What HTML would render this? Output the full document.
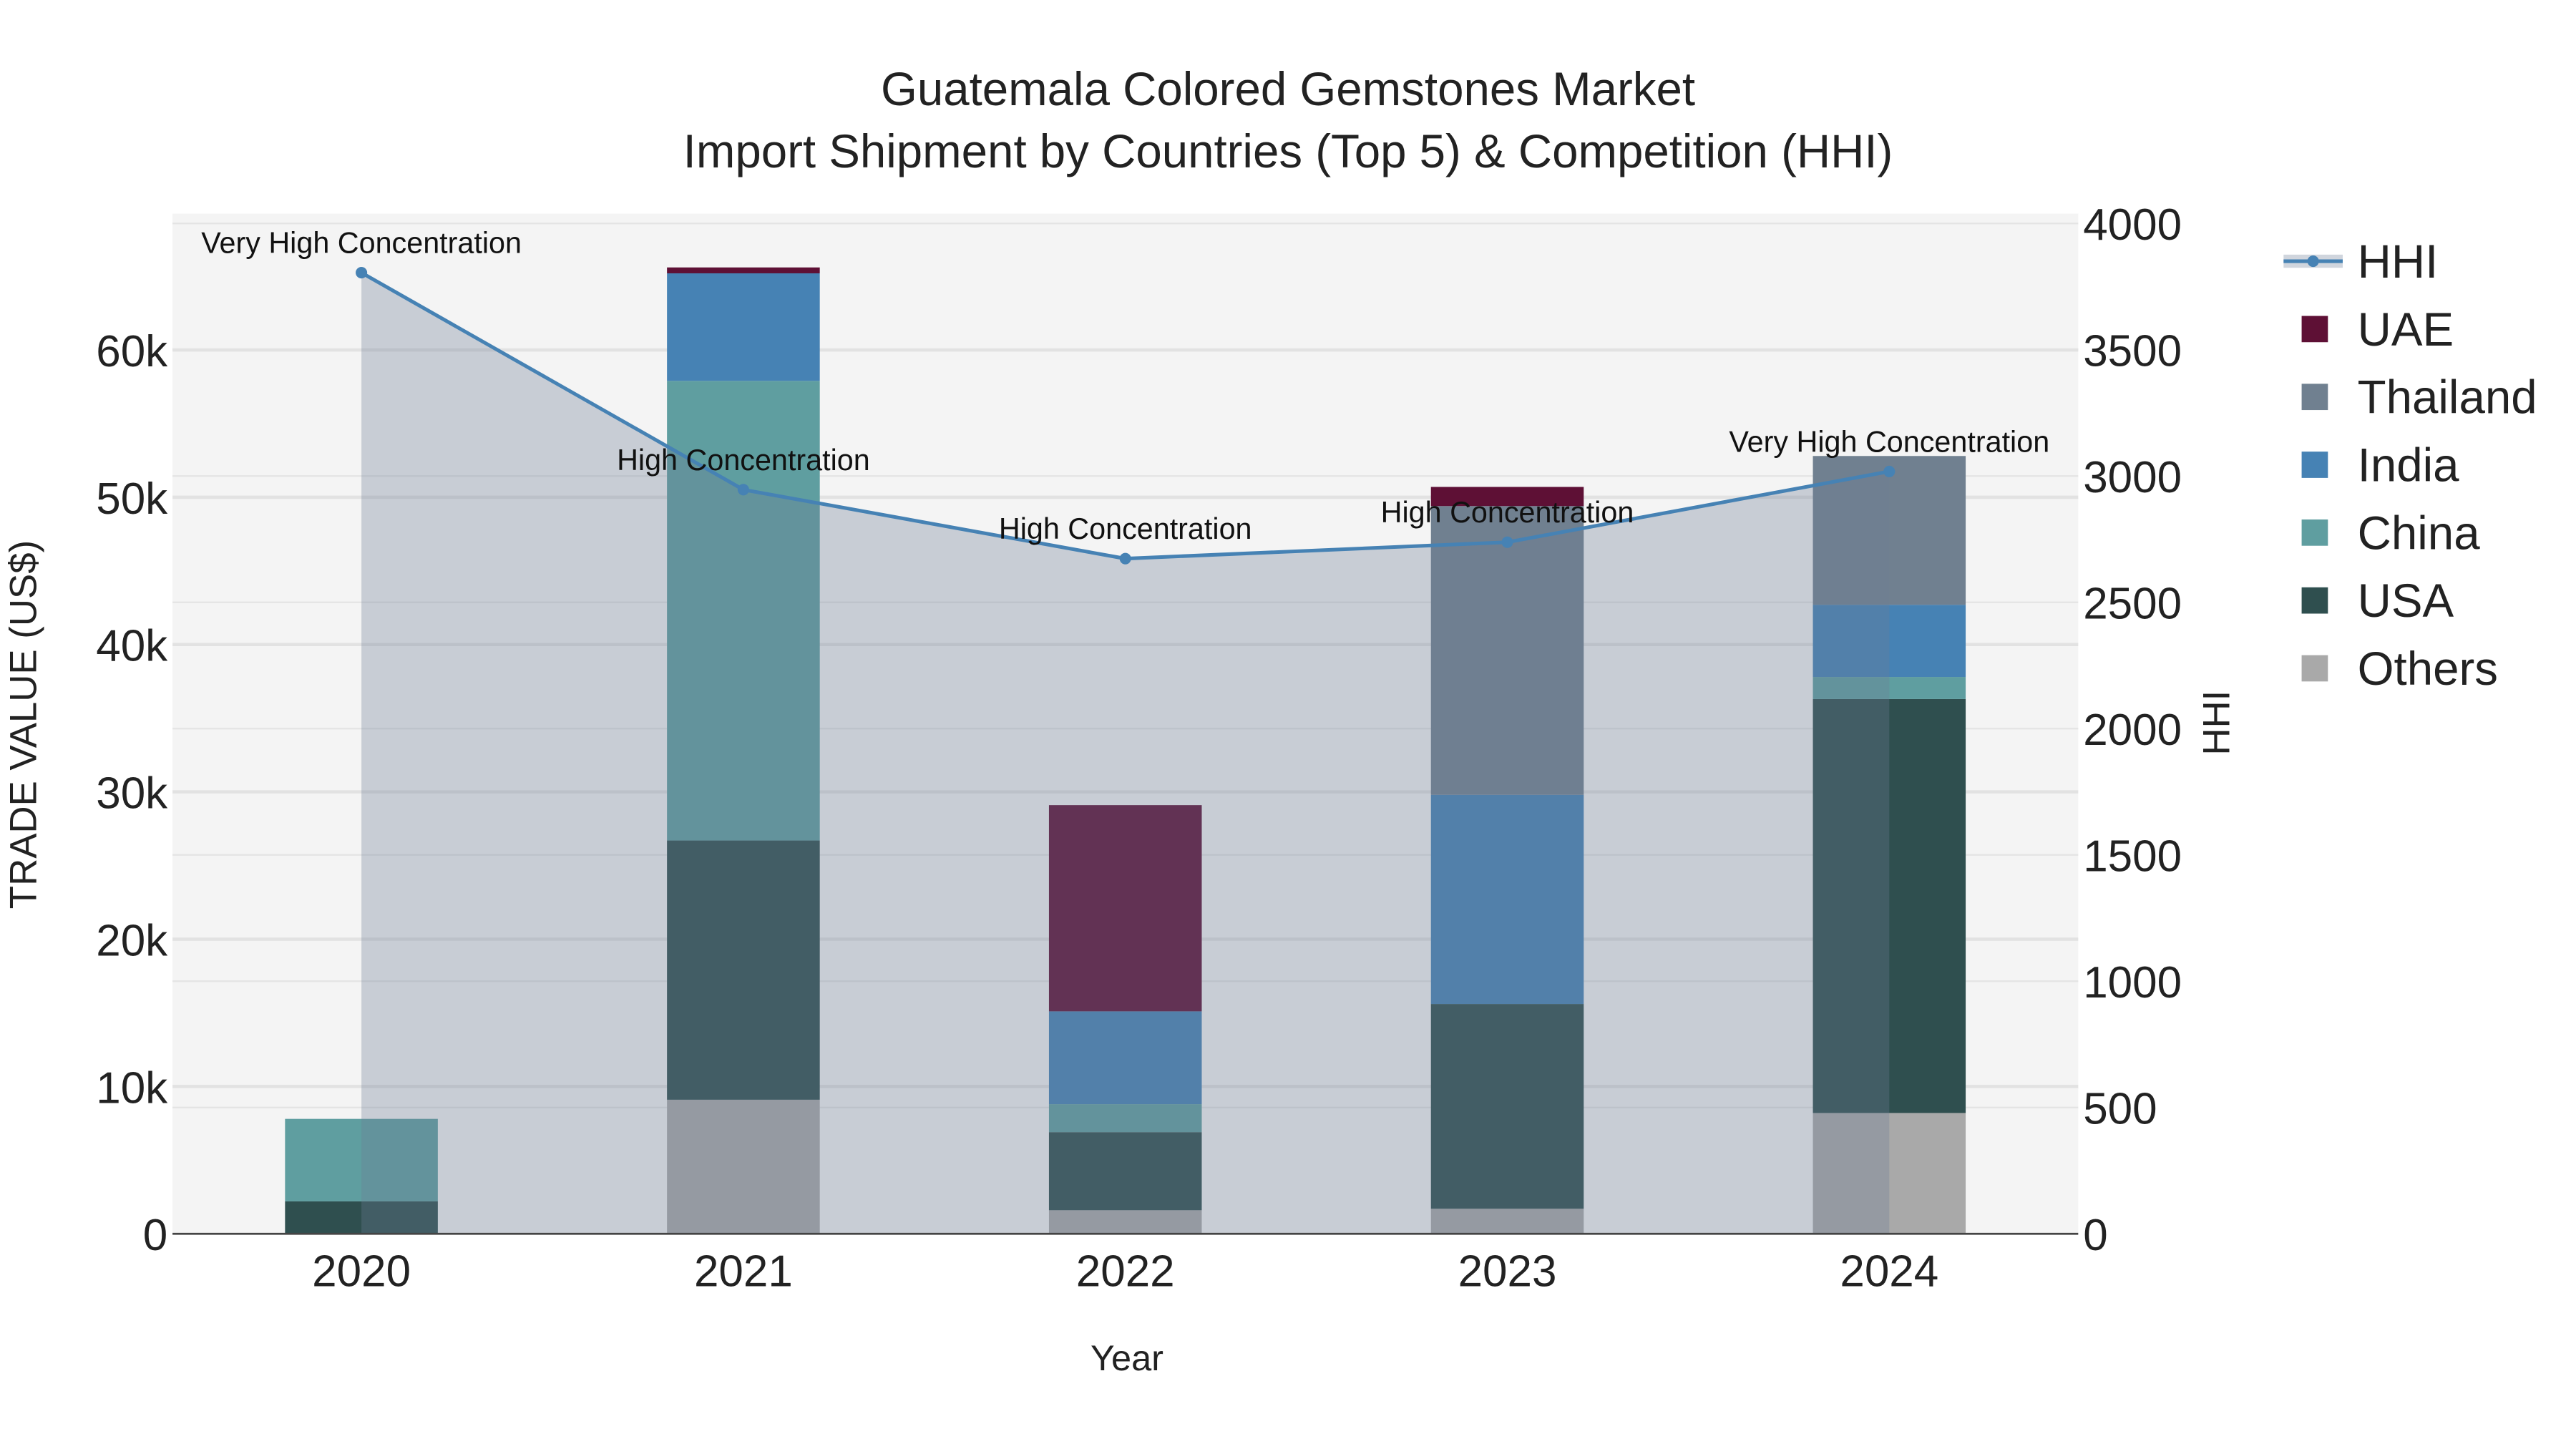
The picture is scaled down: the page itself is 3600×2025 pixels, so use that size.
<!DOCTYPE html>
<html><head><meta charset="utf-8"><style>html,body{margin:0;padding:0;background:#fff}svg{display:block}text{font-family:"Liberation Sans",Arial,sans-serif}</style></head>
<body>
<svg id="chart" width="3600" height="2025" viewBox="0 0 1568 882" xmlns="http://www.w3.org/2000/svg">
<rect x="105" y="130" width="1160" height="621" fill="#f4f4f4"/>
<g id="grid"></g><g id="bars"></g><g id="hhi"></g><g id="axes"></g>
<text x="784" y="64" text-anchor="middle" font-size="28.5" fill="#222">Guatemala Colored Gemstones Market</text>
<text x="784" y="102" text-anchor="middle" font-size="28.5" fill="#222">Import Shipment by Countries (Top 5) &amp; Competition (HHI)</text>
<text x="686" y="834" text-anchor="middle" font-size="22" fill="#222">Year</text>
<text transform="translate(22,441) rotate(-90)" text-anchor="middle" font-size="23" fill="#222">TRADE VALUE (US$)</text>
<text transform="translate(1357,440) rotate(-90)" text-anchor="middle" font-size="23" fill="#222">HHI</text>
<g id="legend"></g>
</svg>
<script>
const years=["2020","2021","2022","2023","2024"];
const others=[0,9100,1600,1700,8200];
const usa=[2200,17600,5300,13900,28100];
const china=[5600,31200,1900,0,1500];
const india=[0,7300,6300,14200,4900];
const thailand=[0,0,0,19600,10100];
const uae=[0,400,14000,1300,0];
const hhi=[3805,2946,2673,2738,3018];
const hhiLabels=["Very High Concentration","High Concentration","High Concentration","High Concentration","Very High Concentration"];
const yTicks=[0,10000,20000,30000,40000,50000,60000];
const yTickLabels=["0","10k","20k","30k","40k","50k","60k"];
const y2Ticks=[0,500,1000,1500,2000,2500,3000,3500,4000];

const NS="http://www.w3.org/2000/svg";
function mk(p,t,a){const e=document.createElementNS(NS,t);for(const k in a)e.setAttribute(k,a[k]);p.appendChild(e);return e;}
const X=i=>220+i*232.5;
const Y=v=>751-v*(538/60000);
const Y2=v=>751-v*(615/4000);
const grid=document.getElementById('grid'),bars=document.getElementById('bars'),hg=document.getElementById('hhi'),ax=document.getElementById('axes'),lg=document.getElementById('legend');
y2Ticks.forEach(t=>{if(t>0){const l=mk(grid,'line',{x1:105,x2:1265,y1:Y2(t),y2:Y2(t),stroke:'#e4e4e4','stroke-width':1});
}
const tx=mk(ax,'text',{x:1268,y:Y2(t)+10,'font-size':27,fill:'#222'});tx.textContent=t;
});
yTicks.forEach((t,i)=>{if(t>0){const l=mk(grid,'line',{x1:105,x2:1265,y1:Y(t),y2:Y(t),stroke:'#e2e2e2','stroke-width':2});
}
const tx=mk(ax,'text',{x:102,y:Y(t)+10,'text-anchor':'end','font-size':27,fill:'#222'});tx.textContent=yTickLabels[i];
});
const bl=mk(ax,'line',{x1:105,x2:1265,y1:751,y2:751,stroke:'#444','stroke-width':1.2});

years.forEach((y,i)=>{const tx=mk(ax,'text',{x:X(i),y:783,'text-anchor':'middle','font-size':27,fill:'#222'});tx.textContent=y;
});
const series=[["Others",others,"#a9a9a9"],["USA",usa,"#2f4f4f"],["China",china,"#5f9ea0"],["India",india,"#4682b4"],["Thailand",thailand,"#708090"],["UAE",uae,"#5e1035"]];
years.forEach((y,i)=>{let acc=0;series.forEach(s=>{const v=s[1][i];if(v<=0)return;
const r=mk(bars,'rect',{x:X(i)-46.5,width:93,y:Y(acc+v),height:Y(acc)-Y(acc+v),fill:s[2]});
acc+=v;});});
let d='M'+X(0)+','+Y2(0);hhi.forEach((v,i)=>d+=' L'+X(i)+','+Y2(v));d+=' L'+X(4)+','+Y2(0)+' Z';
const area=mk(hg,'path',{d:d,fill:'rgba(110,125,150,0.32)'});

const pl=mk(hg,'polyline',{points:hhi.map((v,i)=>X(i)+','+Y2(v)).join(' '),fill:'none',stroke:'#4682b4','stroke-width':2.2});

hhi.forEach((v,i)=>{const c=mk(hg,'circle',{cx:X(i),cy:Y2(v),r:3.5,fill:'#4682b4'});

const t=mk(hg,'text',{x:X(i),y:Y2(v)-12,'text-anchor':'middle','font-size':18,fill:'#111'});t.textContent=hhiLabels[i];
});
const lgItems=[["HHI",null],["UAE","#5e1035"],["Thailand","#708090"],["India","#4682b4"],["China","#5f9ea0"],["USA","#2f4f4f"],["Others","#a9a9a9"]];
lgItems.forEach((it,k)=>{const y=159+k*41.3;const g=mk(lg,'g',{});

if(it[1]===null){mk(g,'rect',{x:1390,y:y-4,width:36,height:8,fill:'rgba(110,125,150,0.32)'});mk(g,'line',{x1:1390,x2:1426,y1:y,y2:y,stroke:'#4682b4','stroke-width':2.2});mk(g,'circle',{cx:1408,cy:y,r:3.5,fill:'#4682b4'});}
else mk(g,'rect',{x:1401,y:y-8,width:16,height:16,fill:it[1]});
const t=mk(g,'text',{x:1435,y:y+10,'font-size':28.5,fill:'#222'});t.textContent=it[0];});
</script>
</body></html>
